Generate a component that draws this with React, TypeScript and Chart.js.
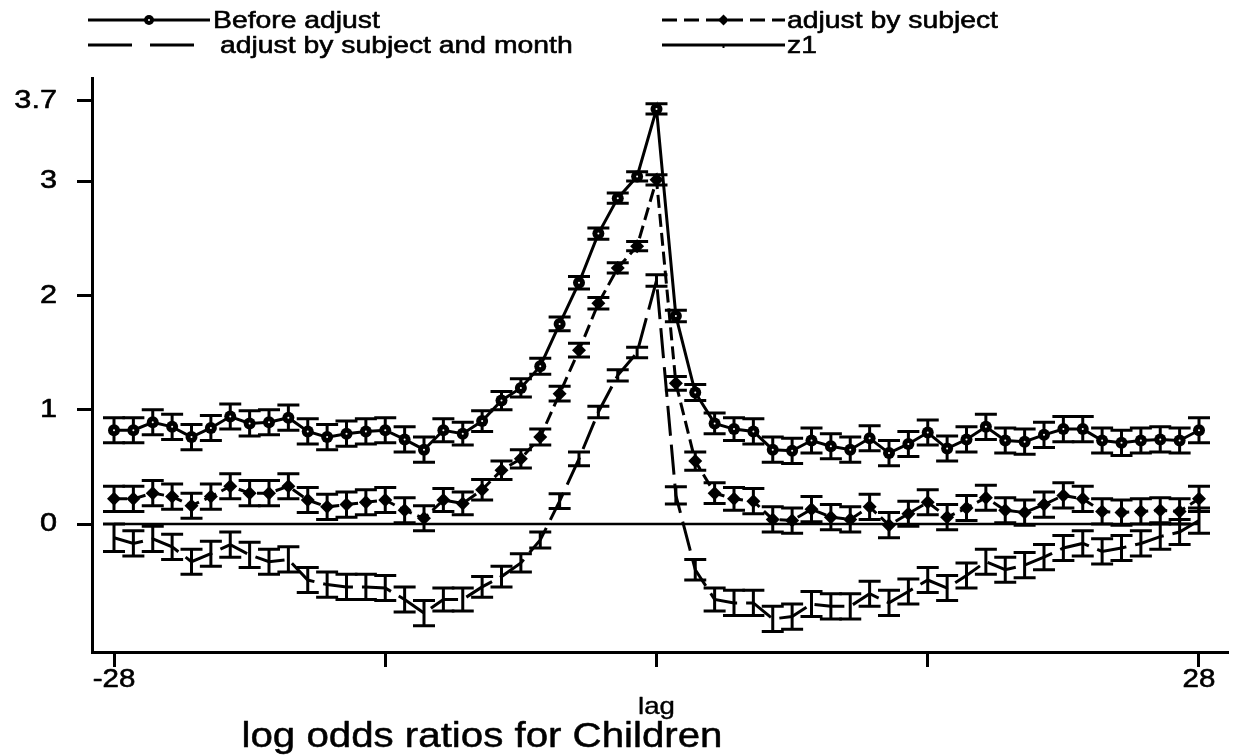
import React, { useEffect, useRef } from "react";
import { Chart, registerables } from "chart.js";

Chart.register(...registerables);

// ---------- data ----------
const lags = [
  -28, -27, -26, -25, -24, -23, -22, -21, -20, -19, -18, -17, -16, -15, -14, -13, -12, -11, -10,
  -9, -8, -7, -6, -5, -4, -3, -2, -1, 0, 1, 2, 3, 4, 5, 6, 7, 8, 9, 10, 11, 12, 13, 14, 15, 16,
  17, 18, 19, 20, 21, 22, 23, 24, 25, 26, 27, 28,
];

const beforeAdjust = [
  0.82, 0.82, 0.89, 0.85, 0.76, 0.84, 0.94, 0.88, 0.89, 0.93, 0.81, 0.76, 0.79, 0.81, 0.82, 0.74, 0.65, 0.82, 0.79,
  0.9, 1.08, 1.19, 1.38, 1.75, 2.11, 2.54, 2.85, 3.04, 3.63, 1.82, 1.15, 0.88, 0.83, 0.81, 0.65, 0.64, 0.73, 0.68, 0.65,
  0.75, 0.62, 0.7, 0.8, 0.66, 0.74, 0.85, 0.73, 0.72, 0.78, 0.83, 0.83, 0.73, 0.71, 0.73, 0.74, 0.73, 0.82,
];
const beforeAdjustErr = [
  0.11, 0.11, 0.11, 0.11, 0.11, 0.11, 0.11, 0.11, 0.11, 0.11, 0.11, 0.11, 0.11, 0.11, 0.11, 0.11, 0.11, 0.1, 0.1,
  0.09, 0.08, 0.08, 0.07, 0.06, 0.055, 0.05, 0.045, 0.04, 0.045, 0.05, 0.07, 0.09, 0.1, 0.11, 0.11, 0.11, 0.11, 0.11, 0.11,
  0.11, 0.11, 0.11, 0.11, 0.11, 0.11, 0.11, 0.11, 0.11, 0.11, 0.11, 0.11, 0.11, 0.11, 0.11, 0.11, 0.11, 0.11,
];

const bySubject = [
  0.22, 0.22, 0.27, 0.24, 0.16, 0.24, 0.33, 0.27, 0.27, 0.33, 0.21, 0.15, 0.17, 0.19, 0.21, 0.12, 0.05, 0.21, 0.18,
  0.3, 0.47, 0.57, 0.76, 1.14, 1.52, 1.93, 2.24, 2.43, 3.01, 1.23, 0.55, 0.27, 0.22, 0.2, 0.04, 0.03, 0.13, 0.06, 0.04,
  0.15, -0.01, 0.09, 0.19, 0.06, 0.14, 0.23, 0.12, 0.1, 0.17, 0.25, 0.22, 0.11, 0.1, 0.11, 0.12, 0.11, 0.22,
];
const bySubjectErr = [
  0.11, 0.11, 0.11, 0.11, 0.11, 0.11, 0.11, 0.11, 0.11, 0.11, 0.11, 0.11, 0.11, 0.11, 0.11, 0.11, 0.11, 0.1, 0.1,
  0.09, 0.08, 0.08, 0.07, 0.065, 0.06, 0.05, 0.045, 0.04, 0.045, 0.06, 0.08, 0.09, 0.1, 0.11, 0.11, 0.11, 0.11, 0.11, 0.11,
  0.11, 0.11, 0.11, 0.11, 0.11, 0.11, 0.11, 0.11, 0.11, 0.11, 0.11, 0.11, 0.11, 0.11, 0.11, 0.11, 0.11, 0.11,
];

const bySubjectMonth = [
  -0.12, -0.17, -0.13, -0.2, -0.33, -0.26, -0.18, -0.27, -0.33, -0.31, -0.49, -0.53, -0.55, -0.55, -0.56, -0.66, -0.78, -0.66, -0.66,
  -0.55, -0.46, -0.34, -0.14, 0.2, 0.57, 0.98, 1.3, 1.5, 2.13, 0.25, -0.4, -0.66, -0.69, -0.69, -0.83, -0.81, -0.7, -0.72, -0.72,
  -0.61, -0.69, -0.59, -0.49, -0.56, -0.45, -0.33, -0.4, -0.36, -0.29, -0.21, -0.17, -0.24, -0.21, -0.17, -0.11, -0.07, 0.03,
];
const bySubjectMonthErr = [
  0.12, 0.11, 0.11, 0.11, 0.11, 0.11, 0.11, 0.11, 0.11, 0.11, 0.11, 0.11, 0.11, 0.11, 0.11, 0.11, 0.11, 0.1, 0.1,
  0.09, 0.09, 0.08, 0.07, 0.065, 0.06, 0.05, 0.05, 0.045, 0.05, 0.075, 0.09, 0.1, 0.11, 0.11, 0.11, 0.11, 0.11, 0.11, 0.11,
  0.11, 0.11, 0.11, 0.11, 0.11, 0.11, 0.11, 0.11, 0.11, 0.11, 0.11, 0.11, 0.11, 0.11, 0.11, 0.11, 0.11, 0.11,
];

const z1 = [
  0, 0, 0, 0, 0, 0, 0, 0, 0, 0, 0, 0, 0, 0, 0, 0, 0, 0, 0,
  0, 0, 0, 0, 0, 0, 0, 0, 0, 0, 0, 0, 0, 0, 0, 0, 0, 0, 0, 0,
  0, 0, 0, 0, 0, 0, 0, 0, 0, 0, 0, 0, 0, 0, 0, 0, 0, 0,
];

const yTickValues = [0, 1, 2, 3, 3.7];
const yTickLabels = ["0", "1", "2", "3", "3.7"];
const xTickValues = [-28, -14, 0, 14, 28];
const xTickLabels = ["-28", "", "", "", "28"];
const seriesNames = ["Before adjust", "adjust by subject", "adjust by subject and month", "z1"];
const xAxisTitle = "lag";
const chartTitle = "log odds ratios for Children";

// ---------- helpers ----------
const FONT = '"Liberation Sans", Arial, Helvetica, sans-serif';
const STRETCH = 1.18;

function drawText(
  ctx: CanvasRenderingContext2D,
  text: string,
  x: number,
  y: number,
  size: number,
  align: CanvasTextAlign,
  sx: number = STRETCH,
  weight: number = 0.6
) {
  ctx.save();
  ctx.font = `${size}px ${FONT}`;
  ctx.fillStyle = "#000";
  ctx.strokeStyle = "#000";
  ctx.lineWidth = weight;
  ctx.lineJoin = "round";
  ctx.textAlign = align;
  ctx.textBaseline = "middle";
  ctx.translate(x, y);
  ctx.scale(sx, 1);
  ctx.fillText(text, 0, 0);
  if (weight > 0) ctx.strokeText(text, 0, 0);
  ctx.restore();
}

function toPoints(ys: number[]) {
  return lags.map((x, i) => ({ x, y: ys[i] }));
}

const errLists: (number[] | null)[] = [beforeAdjustErr, bySubjectErr, bySubjectMonthErr, null];
const valueLists: number[][] = [beforeAdjust, bySubject, bySubjectMonth, z1];

const errorBarPlugin = {
  id: "errorBars",
  beforeDatasetsDraw(chart: any) {
    const ctx: CanvasRenderingContext2D = chart.ctx;
    const xs = chart.scales.x;
    const ys = chart.scales.y;
    const capHalf = 11;
    ctx.save();
    ctx.strokeStyle = "#000";
    ctx.lineWidth = 3;
    ctx.lineCap = "butt";
    errLists.forEach((errs, di) => {
      if (!errs) return;
      const vals = valueLists[di];
      lags.forEach((lag, i) => {
        const px = xs.getPixelForValue(lag);
        const top = ys.getPixelForValue(vals[i] + errs[i]);
        const bot = ys.getPixelForValue(vals[i] - errs[i]);
        ctx.beginPath();
        ctx.moveTo(px, top);
        ctx.lineTo(px, bot);
        ctx.moveTo(px - capHalf, top);
        ctx.lineTo(px + capHalf, top);
        ctx.moveTo(px - capHalf, bot);
        ctx.lineTo(px + capHalf, bot);
        ctx.stroke();
      });
    });
    ctx.restore();
  },
  afterDatasetsDraw(chart: any) {
    // tiny white centre in the "Before adjust" circles
    const ctx: CanvasRenderingContext2D = chart.ctx;
    const meta = chart.getDatasetMeta(0);
    ctx.save();
    ctx.fillStyle = "#fff";
    meta.data.forEach((pt: any) => {
      ctx.beginPath();
      ctx.arc(pt.x, pt.y, 1.0, 0, Math.PI * 2);
      ctx.fill();
    });
    ctx.restore();
  },
};

const annotationPlugin = {
  id: "texts",
  afterDraw(chart: any) {
    const ctx: CanvasRenderingContext2D = chart.ctx;
    const xs = chart.scales.x;
    const ys = chart.scales.y;
    const area = chart.chartArea;

    // y tick labels
    yTickValues.forEach((v, i) => {
      drawText(ctx, yTickLabels[i], area.left - 15 - 20, ys.getPixelForValue(v), 26, "right");
    });
    // x tick labels
    xTickValues.forEach((v, i) => {
      if (!xTickLabels[i]) return;
      drawText(ctx, xTickLabels[i], xs.getPixelForValue(v), area.bottom + 28, 25, "center");
    });
    // axis title + chart title
    drawText(ctx, xAxisTitle, xs.getPixelForValue(0), 707, 24, "center", 1.15, 0.4);
    drawText(ctx, chartTitle, 482, 737, 35, "center", 1.15, 0.5);

    // legend
    const rows = [
      { y: 20, x0: 88, x1: 210, tx: 213, dash: [] as number[], marker: "circle", name: seriesNames[0] },
      { y: 20, x0: 662, x1: 785, tx: 787, dash: [15, 7], marker: "diamond", name: seriesNames[1] },
      { y: 45, x0: 88, x1: 210, tx: 220, dash: [44, 18], marker: "none", name: seriesNames[2] },
      { y: 45, x0: 662, x1: 785, tx: 787, dash: [] as number[], marker: "dot", name: seriesNames[3] },
    ];
    rows.forEach((r) => {
      ctx.save();
      ctx.strokeStyle = "#000";
      ctx.lineWidth = 2.8;
      ctx.setLineDash(r.dash);
      ctx.beginPath();
      ctx.moveTo(r.x0, r.y);
      ctx.lineTo(r.x1, r.y);
      ctx.stroke();
      ctx.setLineDash([]);
      const mx = (r.x0 + r.x1) / 2;
      ctx.fillStyle = "#000";
      if (r.marker === "circle") {
        ctx.beginPath();
        ctx.arc(mx, r.y, 5, 0, Math.PI * 2);
        ctx.fill();
        ctx.fillStyle = "#fff";
        ctx.beginPath();
        ctx.arc(mx, r.y, 1.0, 0, Math.PI * 2);
        ctx.fill();
      } else if (r.marker === "diamond") {
        ctx.beginPath();
        ctx.moveTo(mx, r.y - 5.5);
        ctx.lineTo(mx + 5.5, r.y);
        ctx.lineTo(mx, r.y + 5.5);
        ctx.lineTo(mx - 5.5, r.y);
        ctx.closePath();
        ctx.fill();
      } else if (r.marker === "dot") {
        ctx.fillRect(mx - 1, r.y, 2, 3);
      }
      ctx.restore();
      drawText(ctx, r.name, r.tx, r.y + 1, 24, "left");
    });
  },
};

export default function App() {
  const canvasRef = useRef<HTMLCanvasElement | null>(null);

  useEffect(() => {
    const canvas = canvasRef.current;
    if (!canvas) return;

    const chart = new Chart(canvas, {
      type: "line",
      data: {
        datasets: [
          {
            label: seriesNames[0],
            data: toPoints(beforeAdjust),
            borderColor: "#000",
            backgroundColor: "#000",
            borderWidth: 3,
            pointStyle: "circle",
            pointRadius: 6,
            pointBorderWidth: 0,
            pointBackgroundColor: "#000",
            tension: 0,
          },
          {
            label: seriesNames[1],
            data: toPoints(bySubject),
            borderColor: "#000",
            backgroundColor: "#000",
            borderWidth: 3,
            borderDash: [13, 6],
            pointStyle: "rectRot",
            pointRadius: 7,
            pointBorderWidth: 0,
            pointBackgroundColor: "#000",
            tension: 0,
          },
          {
            label: seriesNames[2],
            data: toPoints(bySubjectMonth),
            borderColor: "#000",
            borderWidth: 3,
            borderDash: [30, 9],
            pointRadius: 0,
            tension: 0,
          },
          {
            label: seriesNames[3],
            data: toPoints(z1),
            borderColor: "#000",
            borderWidth: 2.6,
            pointRadius: 0,
            tension: 0,
          },
        ],
      },
      options: {
        animation: false,
        responsive: false,
        devicePixelRatio: 1,
        layout: { padding: { top: 78, left: 77, right: 7, bottom: 88 } },
        plugins: {
          legend: { display: false },
          title: { display: false },
          tooltip: { enabled: false },
        },
        scales: {
          x: {
            type: "linear",
            min: -29.1355,
            max: 29.4968,
            afterBuildTicks: (s: any) => {
              s.ticks = xTickValues.map((v) => ({ value: v }));
            },
            afterFit: (s: any) => {
              s.height = 15;
            },
            ticks: { display: false },
            grid: {
              display: true,
              drawOnChartArea: false,
              drawTicks: true,
              tickLength: 15,
              tickWidth: 3,
              tickColor: "#000",
            },
            border: { display: true, color: "#000", width: 3 },
          },
          y: {
            type: "linear",
            min: -1.1195,
            max: 3.9009,
            afterBuildTicks: (s: any) => {
              s.ticks = yTickValues.map((v) => ({ value: v }));
            },
            afterFit: (s: any) => {
              s.width = 15;
            },
            ticks: { display: false },
            grid: {
              display: true,
              drawOnChartArea: false,
              drawTicks: true,
              tickLength: 15,
              tickWidth: 3,
              tickColor: "#000",
            },
            border: { display: true, color: "#000", width: 3 },
          },
        },
      },
      plugins: [errorBarPlugin, annotationPlugin],
    } as any);

    return () => {
      chart.destroy();
    };
  }, []);

  return (
    <div style={{ position: "absolute", left: 0, top: 0, width: 1235, height: 755, background: "#fff" }}>
      <canvas ref={canvasRef} width={1235} height={755} style={{ display: "block" }} />
    </div>
  );
}
